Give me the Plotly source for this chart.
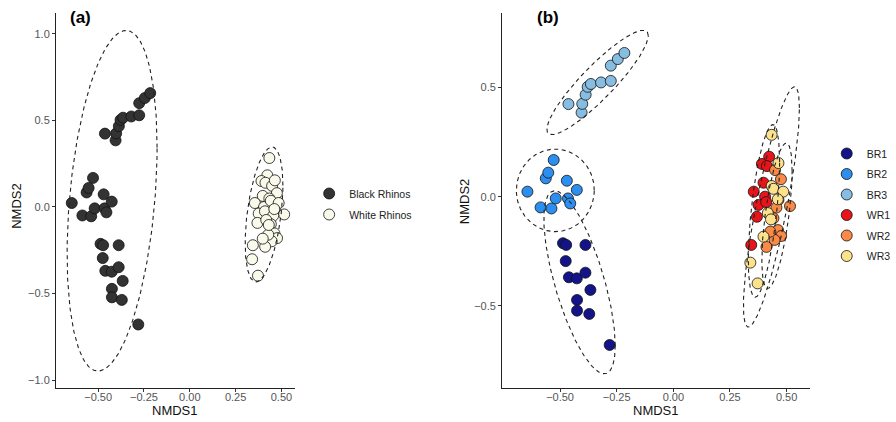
import numpy as np
import plotly.graph_objects as go

# ---------------- data (NMDS scores) ----------------
br1_x = [-0.487, -0.473, -0.388, -0.475, -0.461, -0.426, -0.388, -0.366, -0.425, -0.425, -0.371, -0.281]
br1_y = [-0.213, -0.221, -0.221, -0.295, -0.369, -0.374, -0.348, -0.427, -0.473, -0.522, -0.537, -0.679]

br2_x = [-0.644, -0.586, -0.563, -0.552, -0.528, -0.538, -0.519, -0.470, -0.465, -0.455, -0.426]
br2_y = [0.023, -0.049, 0.084, 0.110, 0.168, -0.054, -0.008, 0.073, -0.008, -0.031, 0.031]

br3_x = [-0.463, -0.405, -0.402, -0.387, -0.378, -0.364, -0.319, -0.276, -0.276, -0.245, -0.216]
br3_y = [0.424, 0.385, 0.425, 0.467, 0.503, 0.516, 0.523, 0.530, 0.600, 0.630, 0.658]

wr1_x = [0.423, 0.391, 0.413, 0.398, 0.355, 0.405, 0.376, 0.410, 0.369, 0.344]
wr1_y = [0.183, 0.150, 0.140, 0.064, 0.023, 0.000, -0.038, -0.025, -0.092, -0.221]

wr2_x = [0.449, 0.475, 0.464, 0.515, 0.455, 0.442, 0.462, 0.476, 0.447, 0.411, 0.428]
wr2_y = [0.122, 0.080, -0.015, -0.043, -0.050, -0.099, -0.153, -0.180, -0.198, -0.230, -0.160]

wr3_x = [0.434, 0.464, 0.434, 0.442, 0.485, 0.461, 0.417, 0.431, 0.398, 0.340, 0.372]
wr3_y = [0.283, 0.154, 0.049, 0.036, 0.023, -0.012, -0.075, -0.104, -0.183, -0.302, -0.397]

groups_b = ["BR1", "BR2", "BR3", "WR1", "WR2", "WR3"]
groups_a = ["Black Rhinos", "White Rhinos"]

# ellipse parameters (centre, spread, correlation)
ell_a_cx = [-0.424, 0.405]
ell_a_cy = [0.036, -0.043]
ell_a_sx = [0.2455, 0.103]
ell_a_sy = [0.984, 0.39]
ell_a_r = [0.312, 0.428]

ell_b_cx = [-0.414, -0.521, -0.3345, 0.400, 0.4575, 0.433]
ell_b_cy = [-0.392, 0.029, 0.523, -0.065, -0.0875, -0.047]
ell_b_sx = [0.1575, 0.172, 0.2239, 0.0691, 0.0669, 0.1237]
ell_b_sy = [0.4186, 0.189, 0.2387, 0.395, 0.3327, 0.5499]
ell_b_r = [-0.6935, 0.0, 0.898, 0.567, 0.615, 0.825]

x_ticks = [-0.50, -0.25, 0.00, 0.25, 0.50]
y_ticks_a = [-1.0, -0.5, 0.0, 0.5, 1.0]
y_ticks_b = [-0.5, 0.0, 0.5]

# ---------------- styling ----------------
colors_b = ["#14148a", "#2c8ff0", "#86bde0", "#e8141a", "#f98a48", "#fde28c"]
colors_a = ["#333333", "#fafaea"]
FONT = "Liberation Sans, Arial, sans-serif"
W, H = 896, 422


def px_x(p):
    return p / W


def px_y(p):
    return 1 - p / H


def ellipse(cx, cy, sx, sy, r, n=240):
    t = np.linspace(0, 2 * np.pi, n)
    x = cx + sx * np.cos(t)
    y = cy + sy * (r * np.cos(t) + np.sqrt(1 - r * r) * np.sin(t))
    return x, y


fig = go.Figure()

# panel (a)
pts_a = [
    (br1_x + br2_x + br3_x, br1_y + br2_y + br3_y),
    (wr1_x + wr2_x + wr3_x, wr1_y + wr2_y + wr3_y),
]
for name, col, (xs, ys) in zip(groups_a, colors_a, pts_a):
    fig.add_trace(go.Scatter(
        x=xs, y=ys, mode="markers", name=name, legend="legend",
        legendgroup=name, xaxis="x", yaxis="y",
        marker=dict(size=11, color=col, line=dict(color="#111111", width=0.8)),
    ))
for i in range(len(groups_a)):
    ex, ey = ellipse(ell_a_cx[i], ell_a_cy[i], ell_a_sx[i], ell_a_sy[i], ell_a_r[i])
    fig.add_trace(go.Scatter(
        x=ex, y=ey, mode="lines", showlegend=False, hoverinfo="skip",
        xaxis="x", yaxis="y",
        line=dict(color="#222222", width=1.1, dash="4px,3.5px"),
    ))

# panel (b)
pts_b = [(br1_x, br1_y), (br2_x, br2_y), (br3_x, br3_y),
         (wr1_x, wr1_y), (wr2_x, wr2_y), (wr3_x, wr3_y)]
for name, col, (xs, ys) in zip(groups_b, colors_b, pts_b):
    fig.add_trace(go.Scatter(
        x=xs, y=ys, mode="markers", name=name, legend="legend2",
        legendgroup=name, xaxis="x2", yaxis="y2",
        marker=dict(size=11, color=col, line=dict(color="#111111", width=0.8)),
    ))
for i in range(len(groups_b)):
    ex, ey = ellipse(ell_b_cx[i], ell_b_cy[i], ell_b_sx[i], ell_b_sy[i], ell_b_r[i])
    fig.add_trace(go.Scatter(
        x=ex, y=ey, mode="lines", showlegend=False, hoverinfo="skip",
        xaxis="x2", yaxis="y2",
        line=dict(color="#222222", width=1.1, dash="4px,3.5px"),
    ))

ydom = [px_y(388), px_y(13)]

axis_common = dict(
    showgrid=False, zeroline=False, showline=True, linecolor="#222222", linewidth=1,
    ticks="outside", ticklen=3, tickwidth=1, tickcolor="#333333",
    tickfont=dict(family=FONT, size=11, color="#555555"),
)

title_font = dict(family=FONT, size=13, color="#111111")

fig.update_layout(
    width=W, height=H, autosize=False,
    margin=dict(l=0, r=0, t=0, b=0),
    paper_bgcolor="white", plot_bgcolor="white",
    font=dict(family=FONT),
    xaxis=dict(domain=[px_x(56.7), px_x(298.3)], range=[-0.730, 0.572],
               tickvals=x_ticks, tickformat=".2f", anchor="y",
               ticklabelstandoff=-4, **axis_common),
    yaxis=dict(domain=ydom, range=[-1.046, 1.121], tickvals=y_ticks_a, tickformat=".1f",
               anchor="x", **axis_common),
    xaxis2=dict(domain=[px_x(508.3), px_x(820)], range=[-0.756, 0.603],
                tickvals=x_ticks, tickformat=".2f", anchor="y2",
                ticklabelstandoff=-4, **axis_common),
    yaxis2=dict(domain=ydom, range=[-0.876, 0.841], tickvals=y_ticks_b, tickformat=".1f",
                anchor="x2", **axis_common),
    legend=dict(x=px_x(313), y=px_y(179), xanchor="left", yanchor="top",
                font=dict(family=FONT, size=10.5, color="#222222"),
                bgcolor="rgba(0,0,0,0)", tracegroupgap=2),
    legend2=dict(x=px_x(837), y=px_y(139), xanchor="left", yanchor="top",
                 font=dict(family=FONT, size=10.5, color="#222222"),
                 bgcolor="rgba(0,0,0,0)", tracegroupgap=1.5),
    showlegend=True,
)

annots = [
    ("<b>(a)</b>", 81, 17, 0, dict(family=FONT, size=17, color="black")),
    ("<b>(b)</b>", 555, 17, 0, dict(family=FONT, size=17, color="black")),
    ("NMDS1", 177, 410.5, 0, title_font),
    ("NMDS1", 664, 410.5, 0, title_font),
    ("NMDS2", 16, 206, -90, title_font),
    ("NMDS2", 470, 201, -90, title_font),
]
for text, ax, ay, ang, fnt in annots:
    fig.add_annotation(text=text, x=px_x(ax), y=px_y(ay), xref="paper", yref="paper",
                       xanchor="center", yanchor="middle", showarrow=False,
                       textangle=ang, font=fnt)

# remove the default 8px page margin so the 896x422 figure fills the window exactly
fig.write_html(
    "out.html",
    config={"displayModeBar": False, "responsive": False},
    post_script="document.body.style.margin='0';document.body.style.overflow='hidden';",
)
